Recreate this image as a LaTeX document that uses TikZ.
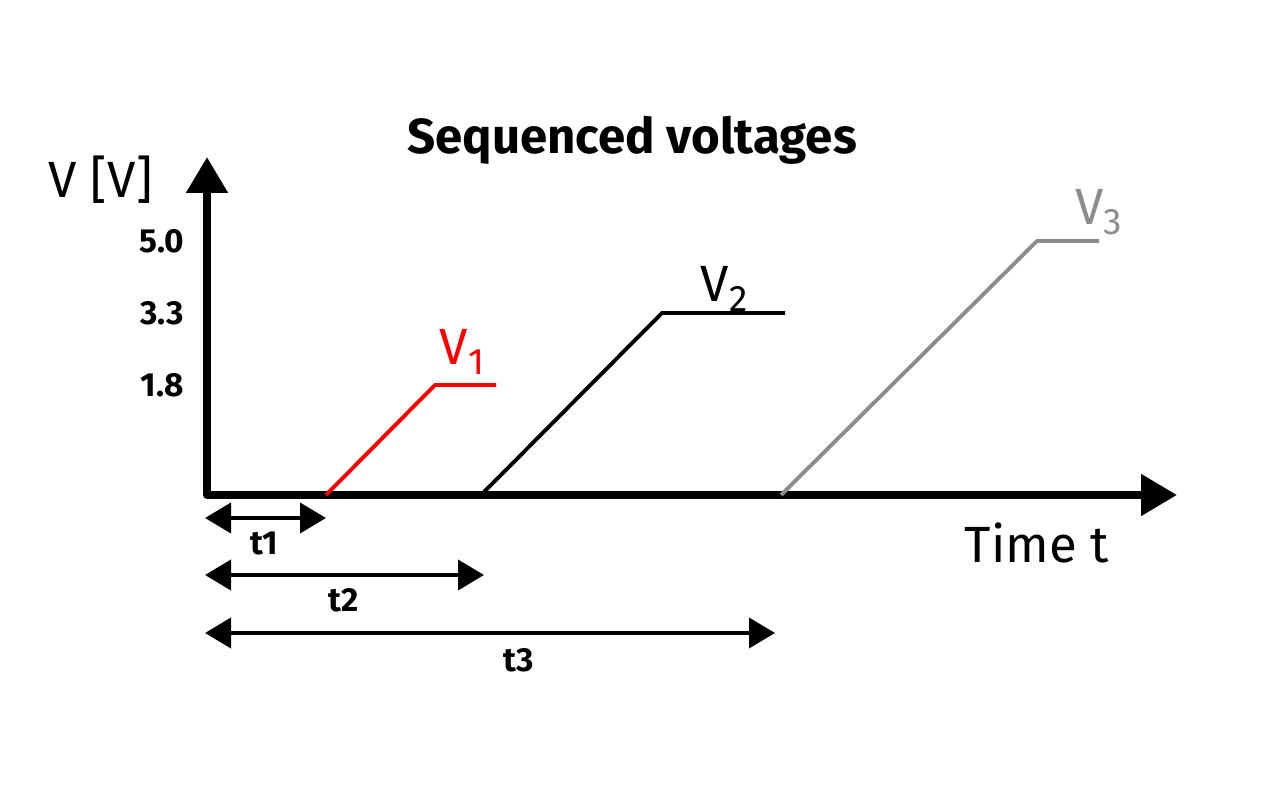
\documentclass[tikz,border=0pt]{standalone}
\usepackage{fontspec}
\setmainfont{Fira Sans}
\usetikzlibrary{arrows.meta}
\definecolor{vgray}{RGB}{140,140,140}
\newcommand{\vsub}[1]{V\raisebox{-0.35ex}{\fontsize{10.5}{11}\selectfont #1}}
\tikzset{
  axis/.style={line width=2.3pt, line join=round, {Triangle[length=3.6mm,width=4mm]}-{Triangle[length=3.6mm,width=4mm]}},
  span/.style={line width=1.1pt, {Triangle[length=2.6mm,width=3mm]}-{Triangle[length=2.6mm,width=3mm]}},
  ramp/.style={line width=1.1pt},
  tick/.style={font=\fontsize{9.5}{10}\selectfont\bfseries},
  big/.style={font=\fontsize{14.5}{16}\selectfont}
}

\begin{document}
\begin{tikzpicture}
    \useasboundingbox (0,0) rectangle (12.8,7.89);
    % axes
    \coordinate (O)    at (2.07,2.94);
    \coordinate (ytip) at (2.07,6.32);
    \coordinate (xtip) at (11.77,2.94);
    \draw[axis] (ytip) -- (O) -- (xtip);
    % ramps
    \coordinate (a1) at (3.26,2.94);  \coordinate (k1) at (4.35,4.04);  \coordinate (e1) at (4.96,4.04);
    \coordinate (a2) at (4.81,2.94);  \coordinate (k2) at (6.62,4.76);  \coordinate (e2) at (7.85,4.76);
    \coordinate (a3) at (7.81,2.94);  \coordinate (k3) at (10.37,5.48); \coordinate (e3) at (10.99,5.48);
    \draw[ramp,red]   (a1) -- (k1) -- (e1);
    \draw[ramp,black] (a2) -- (k2) -- (e2);
    \draw[ramp,vgray] (a3) -- (k3) -- (e3);
    % time spans
    \coordinate (s1) at (2.05,2.71);  \coordinate (f1) at (3.26,2.71);
    \coordinate (s2) at (2.05,2.14);  \coordinate (f2) at (4.84,2.14);
    \coordinate (s3) at (2.05,1.56);  \coordinate (f3) at (7.75,1.56);
    \draw[span] (s1) -- (f1);
    \draw[span] (s2) -- (f2);
    \draw[span] (s3) -- (f3);
    % labels
    \node[font=\fontsize{14}{16}\selectfont\bfseries] (title) at (6.32,6.49) {Sequenced voltages};
    \node[big] (ylab) at (1.01,6.09) {V [V]};
    \node[big] (xlab) at (10.37,2.46) {Time t};
    \node[tick] (l50) at (1.62,5.48) {5.0};
    \node[tick] (l33) at (1.62,4.76) {3.3};
    \node[tick] (l18) at (1.62,4.04) {1.8};
    \node[big,red]   (v1) at (4.62,4.37) {\vsub{1}};
    \node[big,black] (v2) at (7.24,5.00) {\vsub{2}};
    \node[big,vgray] (v3) at (10.99,5.77) {\vsub{3}};
    \node[tick] (t1) at (2.64,2.45) {t1};
    \node[tick] (t2) at (3.44,1.89) {t2};
    \node[tick] (t3) at (5.19,1.29) {t3};
\end{tikzpicture}
\end{document}
